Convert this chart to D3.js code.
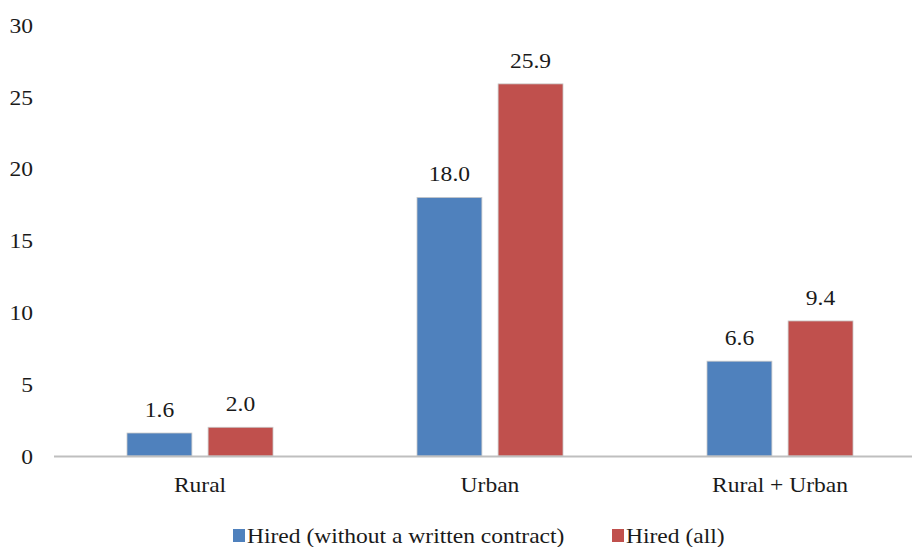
<!DOCTYPE html>
<html><head><meta charset="utf-8">
<script src="https://cdn.jsdelivr.net/npm/d3@7"></script>
<style>body{margin:0;background:#fff}svg{display:block}</style>
</head><body>
<svg id="c" width="912" height="547"></svg>
<script>
const categories = ["Rural", "Urban", "Rural + Urban"];
const seriesNames = ["Hired (without a written contract)", "Hired (all)"];
const withoutContract = [1.6, 18.0, 6.6];
const hiredAll = [2.0, 25.9, 9.4];
const yTicks = [0, 5, 10, 15, 20, 25, 30];
const colors = ["#4F81BD", "#C0504D"];

const SX = 1.07;
const svg = d3.select("#c");
const x = d3.scaleBand().domain(categories).range([55, 925]).paddingInner(0).paddingOuter(0);
const x1 = d3.scaleBand().domain([0,1]).range([72, 218]).paddingInner(0.2).paddingOuter(0);
const y = d3.scaleLinear().domain([0, 30]).range([456, 25]);

function txt(sel, fx, fy){
  return sel.style("font-family", '"Liberation Serif"').attr("fill", "#1a1a1a").attr("font-size", 22)
    .attr("transform", (d, i) => `translate(${fx(d, i)},${fy(d, i)}) scale(${SX},1)`);
}

// y labels
txt(svg.append("g").selectAll("text").data(yTicks).join("text"), () => 33, d => y(d))
  .attr("dy", "0.35em").attr("text-anchor", "end").text(d => d);

const series = [withoutContract, hiredAll];
series.forEach((vals, si) => {
  const g = svg.append("g");
  g.selectAll("rect").data(categories).join("rect")
    .attr("x", (c) => x(c) + x1(si))
    .attr("width", x1.bandwidth())
    .attr("y", (c, i) => y(vals[i]))
    .attr("height", (c, i) => y(0) - y(vals[i]))
    .attr("fill", colors[si])
    .attr("stroke", "#c8c8c8").attr("stroke-width", 0.8);
  txt(g.selectAll("text").data(categories).join("text"),
      c => x(c) + x1(si) + x1.bandwidth() / 2,
      (c, i) => y(vals[i]) - 16)
    .attr("text-anchor", "middle")
    .text((c, i) => vals[i].toFixed(1));
});

// axis line
svg.append("line").attr("x1", 54).attr("x2", 912).attr("y1", y(0) + 0.5).attr("y2", y(0) + 0.5)
  .attr("stroke", "#bfbfbf").attr("stroke-width", 2);

// category labels
txt(svg.append("g").selectAll("text").data(categories).join("text"),
    c => x(c) + x.bandwidth() / 2, () => 492)
  .attr("text-anchor", "middle").text(c => c);

// legend
const legX = [233, 612];
const lg = svg.append("g");
lg.selectAll("rect").data(seriesNames).join("rect")
  .attr("x", (d, i) => legX[i]).attr("y", 529).attr("width", 12).attr("height", 13)
  .attr("fill", (d, i) => colors[i]);
txt(lg.selectAll("text").data(seriesNames).join("text"), (d, i) => legX[i] + 14, () => 543)
  .text(d => d);
</script>
</body></html>
